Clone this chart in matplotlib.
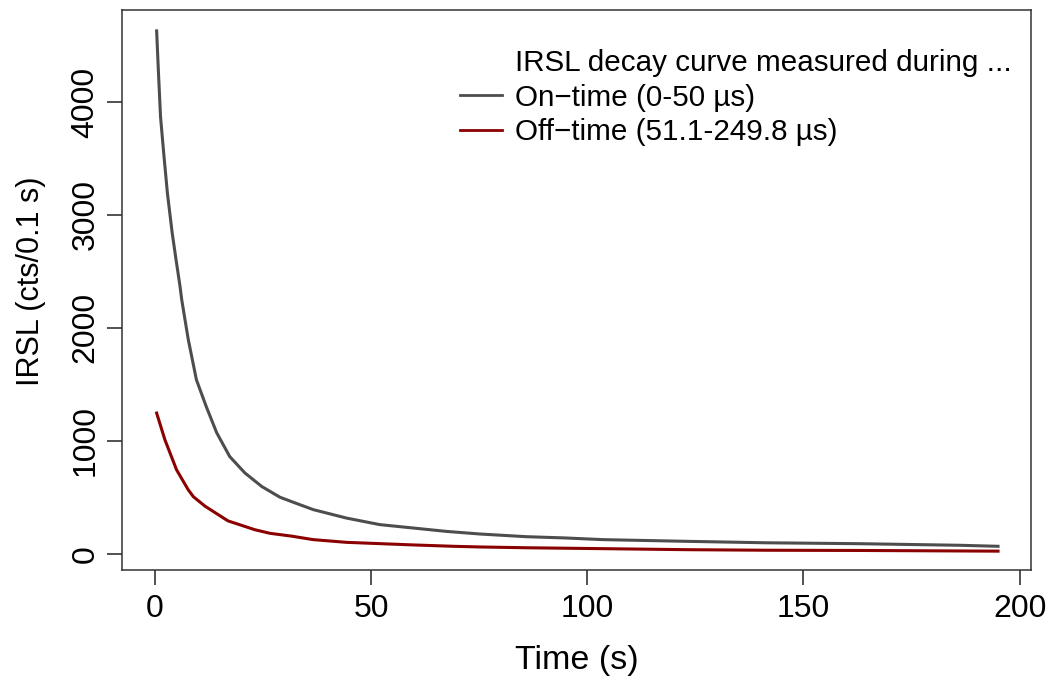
import matplotlib
matplotlib.use("Agg")
import matplotlib.pyplot as plt
from matplotlib.lines import Line2D

# values
on_time_s = [0.4, 0.8, 1.3, 2.1, 2.9, 4.0, 4.9, 5.8, 6.2, 7.7, 9.6, 11.9,
             14.3, 17.3, 20.8, 24.7, 28.9, 32.0, 36.6, 44.3, 52.0, 59.7, 67.4,
             75.1, 85.9, 94.8, 103.6, 122.9, 141.4, 163.0, 186.1, 195.0]
on_time_irsl = [4630, 4280, 3870, 3520, 3190, 2840, 2600, 2370, 2250, 1900,
                1540, 1300, 1070, 860, 715, 595, 500, 455, 390, 315, 257, 227,
                197, 174, 150, 139, 124, 109, 96, 88, 74, 65]

off_time_s = [0.4, 2.3, 5.0, 7.7, 8.9, 11.6, 16.9, 23.1, 26.6, 31.6, 36.6,
              44.3, 59.7, 69.0, 75.1, 85.9, 103.6, 122.9, 141.4, 163.0, 195.0]
off_time_irsl = [1245, 1010, 743, 566, 504, 420, 290, 212, 180, 155, 124,
                 100, 77, 65, 59, 52, 44, 35, 30, 28, 22]

legend_title = "IRSL decay curve measured during ..."
on_label = "On\u2212time (0-50 \u00b5s)"
off_label = "Off\u2212time (51.1-249.8 \u00b5s)"

plt.rcParams['font.family'] = ['Liberation Sans', 'DejaVu Sans']

fig = plt.figure(figsize=(10.53, 6.81), dpi=100)
ax = fig.add_axes([0.1159, 0.163, 0.8631, 0.8223])

gray = '#4d4d4d'
red = '#8b0000'
ax.plot(on_time_s, on_time_irsl, color=gray, lw=2.2)
ax.plot(off_time_s, off_time_irsl, color=red, lw=2.2)

ax.set_xlim(-7.6, 202.6)
ax.set_ylim(-145, 4815)
ax.set_xticks([0, 50, 100, 150, 200])
ax.set_yticks([0, 1000, 2000, 3000, 4000])
ax.tick_params(axis='both', length=10.5, width=1.1, labelsize=23,
               color='#222222')
ax.tick_params(axis='x', pad=7)
ax.tick_params(axis='y', pad=5)
for lab in ax.get_yticklabels():
    lab.set_rotation(90)
    lab.set_va('center')
for sp in ax.spines.values():
    sp.set_linewidth(1.1)
    sp.set_color('#333333')

ax.set_xlabel("Time (s)", fontsize=24.5)
ax.xaxis.set_label_coords(0.5, -0.134)
ax.set_ylabel("IRSL (cts/0.1 s)", fontsize=22)
ax.yaxis.set_label_coords(-0.084, 0.515)

handles = [Line2D([], [], color='none'),
           Line2D([], [], color=gray, lw=2),
           Line2D([], [], color=red, lw=2)]
ax.legend(handles, [legend_title, on_label, off_label], frameon=False,
          fontsize=21.3, loc='upper right', bbox_to_anchor=(0.992, 0.952),
          handlelength=1.42, handletextpad=0.44, labelspacing=0.23,
          borderaxespad=0)

fig.savefig('out.png', dpi=100)
